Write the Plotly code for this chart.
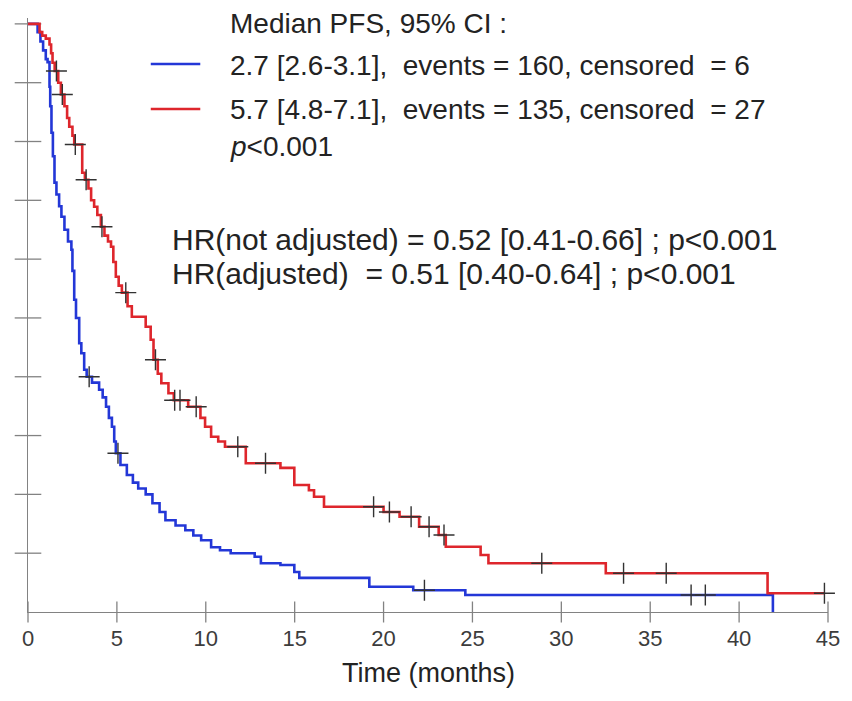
import plotly.graph_objects as go

# Kaplan-Meier progression-free survival, two arms (times in months)
blue_t = [0, 0.54, 0.7, 0.85, 1.0, 1.1, 1.21, 1.25, 1.32, 1.4, 1.49, 1.6, 1.75, 1.88, 2.05,
          2.25, 2.44, 2.5, 2.6, 2.7, 2.88, 3.0, 3.16, 3.3, 3.6, 4.0, 4.2, 4.39, 4.55, 4.72,
          4.85, 4.94, 5.2, 5.56, 5.9, 6.2, 6.62, 7.0, 7.4, 7.73, 8.3, 8.85, 9.3, 9.74, 10.3,
          10.8, 11.4, 12.75, 13.1, 14.2, 14.98, 15.26, 19.2, 21.67, 24.6, 41.9]
blue_s = [1.0, 0.986, 0.97, 0.955, 0.94, 0.935, 0.893, 0.86, 0.815, 0.775, 0.73, 0.71, 0.69,
          0.672, 0.65, 0.63, 0.616, 0.58, 0.531, 0.50, 0.457, 0.44, 0.412, 0.40, 0.39, 0.378,
          0.365, 0.349, 0.33, 0.315, 0.29, 0.27, 0.25, 0.233, 0.22, 0.21, 0.2, 0.185, 0.17,
          0.156, 0.147, 0.139, 0.13, 0.122, 0.11, 0.105, 0.1, 0.094, 0.083, 0.08, 0.068, 0.058,
          0.043, 0.037, 0.029, 0.0]
blue_censor_t = [3.44, 5.06, 22.3, 37.3, 38.1]

red_t = [0, 0.65, 0.8, 1.0, 1.21, 1.3, 1.38, 1.5, 1.7, 1.85, 2.05, 2.2, 2.32, 2.5, 2.6, 3.05,
         3.2, 3.4, 3.55, 3.72, 3.9, 4.1, 4.3, 4.5, 4.67, 4.8, 4.94, 5.1, 5.28, 5.6, 5.84, 6.62,
         6.9, 7.06, 7.3, 7.5, 7.9, 8.2, 9.01, 9.7, 9.96, 10.3, 10.7, 11.08, 12.25, 14.2, 14.98,
         15.8, 16.09, 16.65, 20.0, 20.9, 22.0, 23.1, 23.5, 25.46, 25.9, 32.5, 41.6, 44.8]
red_s = [1.0, 0.986, 0.98, 0.975, 0.965, 0.95, 0.934, 0.92, 0.9, 0.88, 0.86, 0.84, 0.825,
         0.81, 0.795, 0.747, 0.735, 0.72, 0.70, 0.689, 0.675, 0.655, 0.64, 0.63, 0.621, 0.595,
         0.57, 0.555, 0.543, 0.52, 0.502, 0.485, 0.463, 0.429, 0.405, 0.389, 0.372, 0.36,
         0.349, 0.33, 0.315, 0.298, 0.29, 0.281, 0.253, 0.245, 0.216, 0.207, 0.196, 0.179,
         0.170, 0.162, 0.145, 0.131, 0.111, 0.097, 0.083, 0.066, 0.032, 0.032]
red_censor_t = [1.6, 1.93, 2.66, 3.27, 4.16, 5.5, 7.17, 8.25, 8.55, 9.46, 11.8, 13.36, 19.44,
                20.33, 21.55, 22.56, 23.4, 28.9, 33.5, 35.9, 44.8]

x_ticks = [0, 5, 10, 15, 20, 25, 30, 35, 40, 45]
y_ticks = [0.1, 0.2, 0.3, 0.4, 0.5, 0.6, 0.7, 0.8, 0.9, 1.0]

NB = "\u00a0"
legend_title = "Median PFS, 95% CI :"
blue_label = f"2.7 [2.6-3.1],{NB} events = 160, censored{NB} = 6"
red_label = f"5.7 [4.8-7.1],{NB} events = 135, censored{NB} = 27"
logrank_label = "<i>p</i><0.001"
hr_lines = ["HR(not adjusted) = 0.52 [0.41-0.66] ; p<0.001",
            f"HR(adjusted){NB} = 0.51 [0.40-0.64] ; p<0.001"]

BLUE = "rgb(35,55,215)"
RED = "rgb(222,38,44)"
AXIS = "rgb(130,130,130)"
TEXT = "rgb(35,35,35)"
FONT = "Liberation Sans, Arial, sans-serif"


def surv_at(times, surv, t):
    """Value of the step function at time t."""
    val = surv[0]
    for ti, si in zip(times, surv):
        if ti <= t:
            val = si
        else:
            break
    return val


fig = go.Figure()

# crossing tick marks on both axes
fig.add_trace(go.Scatter(x=[0] * len(y_ticks), y=y_ticks, mode="markers", cliponaxis=False,
                         marker=dict(symbol="line-ew", size=19, line=dict(color=AXIS, width=1.3)),
                         showlegend=False, hoverinfo="skip"))
fig.add_trace(go.Scatter(x=x_ticks, y=[0] * len(x_ticks), mode="markers", cliponaxis=False,
                         marker=dict(symbol="line-ns", size=15, line=dict(color=AXIS, width=1.3)),
                         showlegend=False, hoverinfo="skip"))

for times, surv, cens, color in [(blue_t, blue_s, blue_censor_t, BLUE),
                                 (red_t, red_s, red_censor_t, RED)]:
    fig.add_trace(go.Scatter(x=times, y=surv, mode="lines", line=dict(color=color, width=2.6, shape="hv"),
                             showlegend=False, hoverinfo="skip"))
    fig.add_trace(go.Scatter(x=cens, y=[surv_at(times, surv, c) for c in cens], mode="markers",
                             cliponaxis=False,
                             marker=dict(symbol="cross-thin", size=15, line=dict(color="rgb(50,50,50)", width=1.4)),
                             showlegend=False, hoverinfo="skip"))

fig.update_layout(
    width=852, height=701,
    margin=dict(l=28, r=16, t=18, b=89),
    paper_bgcolor="white", plot_bgcolor="white",
    font=dict(family=FONT, color=TEXT),
    xaxis=dict(range=[0, 45], tickvals=x_ticks, ticks="", showline=True, linecolor=AXIS,
               linewidth=1.4, showgrid=False, zeroline=False,
               tickfont=dict(size=22, color="rgb(60,60,60)"), ticklabelstandoff=6),
    yaxis=dict(range=[0, 1.01], tickvals=y_ticks, ticks="", showline=True, linecolor=AXIS,
               linewidth=1.4, showgrid=False, zeroline=False, showticklabels=False),
)

PLOT_TOP, PLOT_BOTTOM = 18, 612


def py(pix):
    return (PLOT_BOTTOM - pix) / (PLOT_BOTTOM - PLOT_TOP)


def px(pix):
    return (pix - 28) / 808


# legend block
leg_rows = [(legend_title, 24, None), (blue_label, 65, BLUE), (red_label, 110, RED), (logrank_label, 146, None)]
for text, ypix, color in leg_rows:
    fig.add_annotation(text=text, xref="paper", yref="paper", x=px(230), y=py(ypix),
                       xanchor="left", yanchor="middle", showarrow=False,
                       font=dict(size=28, color=TEXT, family=FONT))
    if color:
        fig.add_shape(type="line", xref="paper", yref="paper", x0=px(152), x1=px(202),
                      y0=py(ypix - 1), y1=py(ypix - 1), line=dict(color=color, width=2.6))

for text, ypix in zip(hr_lines, [239, 273]):
    fig.add_annotation(text=text, xref="paper", yref="paper", x=px(171), y=py(ypix),
                       xanchor="left", yanchor="middle", showarrow=False,
                       font=dict(size=30, color=TEXT, family=FONT))

fig.add_annotation(text="Time (months)", xref="paper", yref="paper", x=px(432), y=py(673),
                   xanchor="center", yanchor="middle", showarrow=False,
                   font=dict(size=27, color=TEXT, family=FONT))

fig.write_html("out.html")
